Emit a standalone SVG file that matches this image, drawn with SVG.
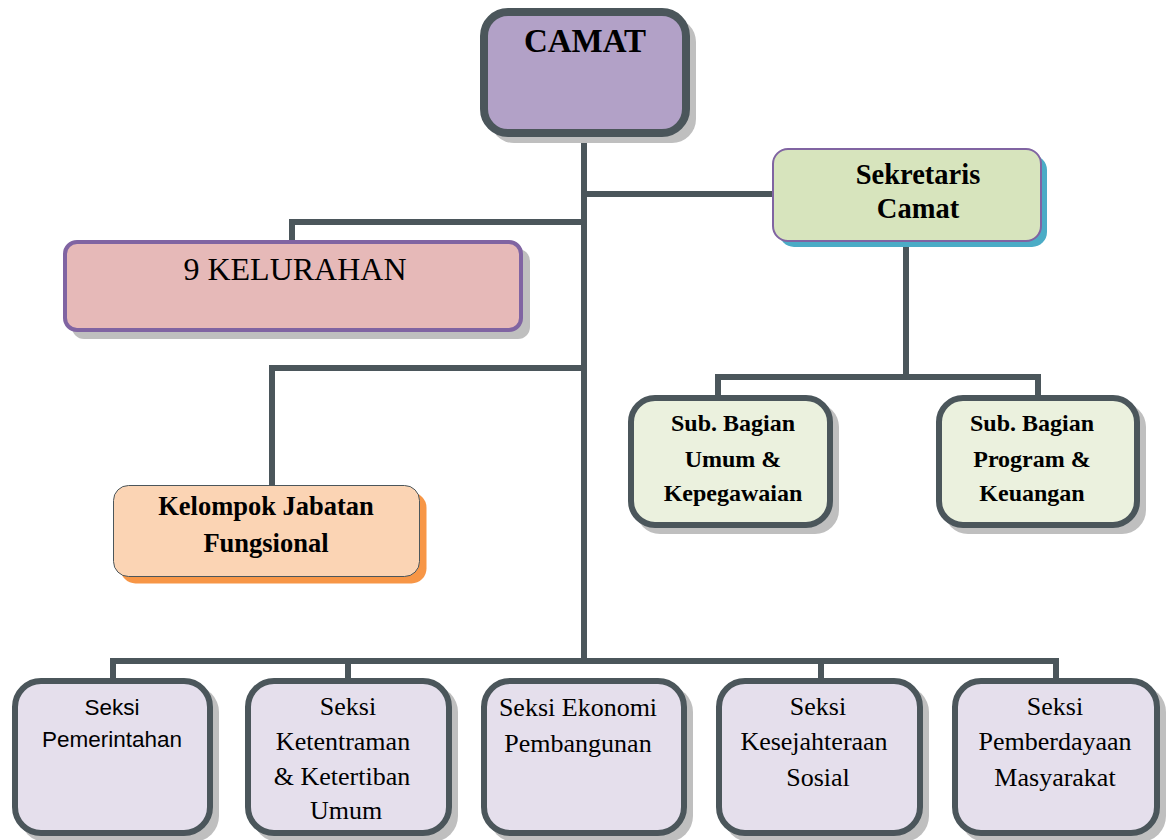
<svg xmlns="http://www.w3.org/2000/svg" width="1166" height="840" viewBox="0 0 1166 840">
<style>
.ln{fill:none;stroke:#4b565b;stroke-width:6;stroke-linejoin:miter}
.sh{fill:#bfbfbf}
.dk{stroke:#4b565b;stroke-width:6}
.tb{font-family:"Liberation Serif",serif;font-weight:bold;fill:#000;text-anchor:middle}
.tr{font-family:"Liberation Serif",serif;fill:#000;text-anchor:middle}
.ts{font-family:"Liberation Sans",sans-serif;fill:#000;text-anchor:middle}
.sek{fill:#e5dfec}
</style>
<rect width="1166" height="840" fill="#fff"/>
<g id="connectors">
<path class="ln" d="M584 137V661"/>
<path class="ln" d="M584 194H773"/>
<path class="ln" d="M584 222H292V242"/>
<path class="ln" d="M584 368H272V485"/>
<path class="ln" d="M906 242V377M718 395V377H1038V395"/>
<path class="ln" d="M113 678V661H1056V678M348 661V678M821 661V678"/>
</g>
<g id="camat">
<rect class="sh" x="490" y="18" width="206" height="125" rx="24"/>
<rect x="484" y="12" width="202" height="121" rx="24" fill="#b2a1c7" stroke="#4b565b" stroke-width="8"/>
<text class="tb" x="585" y="52" font-size="33">CAMAT</text>
</g>
<g id="sekretaris">
<rect x="779" y="155" width="268" height="92" rx="15" fill="#4bacc6"/>
<rect x="773" y="149" width="268" height="92" rx="15" fill="#d7e4bd" stroke="#8064a2" stroke-width="2"/>
<text class="tb" x="918" y="184" font-size="28.5">Sekretaris</text>
<text class="tb" x="918" y="218" font-size="28.5">Camat</text>
</g>
<g id="kelurahan">
<rect class="sh" x="72" y="249" width="458" height="90" rx="12"/>
<rect x="65" y="242" width="456" height="88" rx="12" fill="#e6b9b8" stroke="#8064a2" stroke-width="4"/>
<text class="tr" x="295" y="280" font-size="32">9 KELURAHAN</text>
</g>
<g id="kelompok">
<rect x="120.5" y="492.5" width="306" height="91" rx="15" fill="#f79646"/>
<rect x="113.5" y="485.5" width="306" height="91" rx="15" fill="#fbd4b4" stroke="#4b565b" stroke-width="1"/>
<text class="tb" x="266" y="515" font-size="26.5">Kelompok Jabatan</text>
<text class="tb" x="266" y="552" font-size="26.5">Fungsional</text>
</g>
<g id="subbag-umum">
<rect class="sh" x="636" y="403" width="203" height="131" rx="24"/>
<rect x="631" y="398" width="199" height="127" rx="24" fill="#ebf1de" class="dk"/>
<text class="tb" x="733" y="431" font-size="24">Sub. Bagian</text>
<text class="tb" x="733" y="467" font-size="24">Umum &amp;</text>
<text class="tb" x="733" y="501" font-size="24">Kepegawaian</text>
</g>
<g id="subbag-program">
<rect class="sh" x="944" y="403" width="202" height="131" rx="24"/>
<rect x="939" y="398" width="198" height="127" rx="24" fill="#ebf1de" class="dk"/>
<text class="tb" x="1032" y="431" font-size="24">Sub. Bagian</text>
<text class="tb" x="1032" y="467" font-size="24">Program &amp;</text>
<text class="tb" x="1032" y="501" font-size="24">Keuangan</text>
</g>
<g id="seksi-pemerintahan">
<rect class="sh" x="20" y="686" width="199" height="156" rx="26"/>
<rect class="sek dk" x="15" y="681" width="195" height="152" rx="26"/>
<text class="ts" x="112" y="715" font-size="22.5">Seksi</text>
<text class="ts" x="112" y="747" font-size="22.5">Pemerintahan</text>
</g>
<g id="seksi-ketentraman">
<rect class="sh" x="253" y="686" width="205" height="156" rx="26"/>
<rect class="sek dk" x="248" y="681" width="201" height="152" rx="26"/>
<text class="tr" x="348" y="715" font-size="26">Seksi</text>
<text class="tr" x="343" y="750" font-size="26">Ketentraman</text>
<text class="tr" x="342" y="785" font-size="26">&amp; Ketertiban</text>
<text class="tr" x="346" y="819" font-size="26">Umum</text>
</g>
<g id="seksi-ekonomi">
<rect class="sh" x="489" y="686" width="204" height="156" rx="26"/>
<rect class="sek dk" x="484" y="681" width="200" height="152" rx="26"/>
<text class="tr" x="578" y="716" font-size="26">Seksi Ekonomi</text>
<text class="tr" x="578" y="752" font-size="26">Pembangunan</text>
</g>
<g id="seksi-kesejahteraan">
<rect class="sh" x="724" y="686" width="205" height="156" rx="26"/>
<rect class="sek dk" x="719" y="681" width="201" height="152" rx="26"/>
<text class="tr" x="818" y="715" font-size="26">Seksi</text>
<text class="tr" x="814" y="750" font-size="26">Kesejahteraan</text>
<text class="tr" x="818" y="786" font-size="26">Sosial</text>
</g>
<g id="seksi-pemberdayaan">
<rect class="sh" x="960" y="686" width="206" height="156" rx="26"/>
<rect class="sek dk" x="955" y="681" width="202" height="152" rx="26"/>
<text class="tr" x="1055" y="715" font-size="26">Seksi</text>
<text class="tr" x="1055" y="750" font-size="26">Pemberdayaan</text>
<text class="tr" x="1055" y="786" font-size="26">Masyarakat</text>
</g>
</svg>
